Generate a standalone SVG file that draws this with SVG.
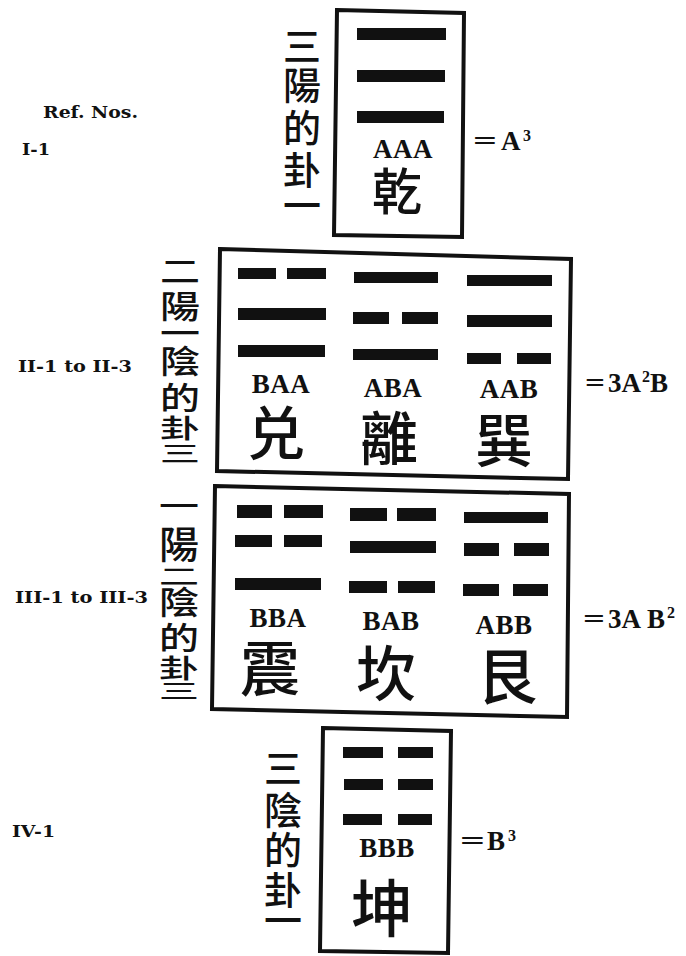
<svg xmlns="http://www.w3.org/2000/svg" width="686" height="956" viewBox="0 0 686 956">
<style>
.bg{fill:#fff}
.box{fill:none;stroke:#111;stroke-width:4;stroke-linejoin:miter}
.bar{fill:#111}
.code{font-family:"Liberation Serif","DejaVu Serif",serif;font-weight:bold;font-size:27px;fill:#111;text-anchor:middle;letter-spacing:0.5px}
.han{font-family:"Noto Sans CJK TC","Noto Sans CJK SC",sans-serif;font-weight:500;fill:#111;text-anchor:middle}
.big{font-size:58px}
.lab{font-size:38px}
.ref{font-family:"DejaVu Serif","Liberation Serif",serif;font-weight:bold;font-size:16px;fill:#111}
.eq{font-family:"Liberation Serif","DejaVu Serif",serif;font-weight:bold;font-size:27px;fill:#111}
.sup{font-family:"Liberation Serif","DejaVu Serif",serif;font-weight:bold;font-size:16px;fill:#111}
</style>
<rect class="bg" x="0" y="0" width="686" height="956"/>

<g id="ref-labels">
<text class="ref" x="43" y="118" textLength="95" lengthAdjust="spacingAndGlyphs">Ref. Nos.</text>
<text class="ref" x="22" y="155" textLength="28" lengthAdjust="spacingAndGlyphs">I-1</text>
<text class="ref" x="18" y="372" textLength="114" lengthAdjust="spacingAndGlyphs">II-1 to II-3</text>
<text class="ref" x="15" y="603" textLength="133" lengthAdjust="spacingAndGlyphs">III-1 to III-3</text>
<text class="ref" x="12" y="837" textLength="43" lengthAdjust="spacingAndGlyphs">IV-1</text>
</g>

<!-- Node I: 乾 -->
<g id="node-qian">
<polygon class="box" points="337,10 464,13 462,237 334,235"/>
<rect class="bar" x="357" y="28" width="89" height="12"/>
<rect class="bar" x="357" y="70" width="88" height="12"/>
<rect class="bar" x="357" y="111" width="87" height="12"/>
<text class="code" x="403" y="158">AAA</text>
<text class="han" x="397" y="210" font-size="50" font-weight="400">乾</text>
<g class="han lab">
<text x="302" y="60">三</text>
<text x="302" y="99">陽</text>
<text x="302" y="142">的</text>
<text x="302" y="184">卦</text>
<text x="302" y="219">一</text>
</g>
<text class="eq" x="473" y="150" textLength="24" lengthAdjust="spacingAndGlyphs">=</text>
<text class="eq" x="501" y="150">A</text>
<text class="sup" x="523" y="141">3</text>
</g>

<!-- Node II: 兑 離 巽 -->
<g id="node-two-yang">
<polygon class="box" points="220,249 571,259 568,479 217,471"/>
<rect class="bar" x="238" y="268" width="38" height="11"/>
<rect class="bar" x="287" y="268" width="39" height="11"/>
<rect class="bar" x="238" y="308" width="88" height="12"/>
<rect class="bar" x="238" y="345" width="87" height="12"/>
<rect class="bar" x="354" y="272" width="84" height="11"/>
<rect class="bar" x="353" y="312" width="36" height="12"/>
<rect class="bar" x="402" y="312" width="36" height="12"/>
<rect class="bar" x="353" y="349" width="85" height="11"/>
<rect class="bar" x="467" y="275" width="85" height="11"/>
<rect class="bar" x="467" y="315" width="85" height="12"/>
<rect class="bar" x="467" y="353" width="34" height="11"/>
<rect class="bar" x="517" y="353" width="34" height="11"/>
<text class="code" x="281" y="393">BAA</text>
<text class="code" x="393" y="397">ABA</text>
<text class="code" x="509" y="398">AAB</text>
<g class="han big" font-weight="400">
<text x="276" y="455">兑</text>
<text x="389" y="460">離</text>
<text x="504" y="462">巽</text>
</g>
<g class="han" font-size="40">
<text transform="matrix(1 0 0 0.75 180 271)" x="0" y="15">二</text>
<text transform="matrix(1 0 0 0.8 180 306)" x="0" y="15">陽</text>
<text transform="matrix(1 0 0 0.75 180 333)" x="0" y="15">一</text>
<text transform="matrix(1 0 0 0.8 180 361)" x="0" y="15">陰</text>
<text transform="matrix(1 0 0 0.78 180 397)" x="0" y="15">的</text>
<text transform="matrix(1 0 0 0.65 180 428)" x="0" y="15">卦</text>
<text transform="matrix(1 0 0 0.55 180 453)" x="0" y="15">三</text>
</g>
<text class="eq" x="585" y="392" textLength="20" lengthAdjust="spacingAndGlyphs">=</text>
<text class="eq" x="608" y="392">3A</text>
<text class="sup" x="642" y="382">2</text>
<text class="eq" x="650" y="392">B</text>
</g>

<!-- Node III: 震 坎 艮 -->
<g id="node-one-yang">
<polygon class="box" points="215,486 569,494 567,717 212,709"/>
<rect class="bar" x="237" y="505" width="35" height="13"/>
<rect class="bar" x="284" y="505" width="39" height="13"/>
<rect class="bar" x="235" y="535" width="37" height="12"/>
<rect class="bar" x="284" y="535" width="38" height="12"/>
<rect class="bar" x="235" y="578" width="86" height="12"/>
<rect class="bar" x="350" y="508" width="37" height="13"/>
<rect class="bar" x="397" y="508" width="39" height="13"/>
<rect class="bar" x="350" y="541" width="86" height="12"/>
<rect class="bar" x="349" y="581" width="38" height="12"/>
<rect class="bar" x="398" y="581" width="37" height="12"/>
<rect class="bar" x="464" y="512" width="84" height="11"/>
<rect class="bar" x="464" y="543" width="35" height="13"/>
<rect class="bar" x="514" y="543" width="35" height="13"/>
<rect class="bar" x="463" y="584" width="36" height="12"/>
<rect class="bar" x="513" y="584" width="35" height="12"/>
<text class="code" x="278" y="627">BBA</text>
<text class="code" x="391" y="630">BAB</text>
<text class="code" x="504" y="634">ABB</text>
<g class="han" font-size="60" font-weight="400">
<text x="270" y="691">震</text>
<text x="386" y="696">坎</text>
<text x="507" y="699">艮</text>
</g>
<g class="han" font-size="40">
<text transform="matrix(1 0 0 0.7 179 506)" x="0" y="15">一</text>
<text transform="matrix(1 0 0 0.95 179 544)" x="0" y="15">陽</text>
<text transform="matrix(1 0 0 0.55 179 576)" x="0" y="15">二</text>
<text transform="matrix(1 0 0 0.8 179 602)" x="0" y="15">陰</text>
<text transform="matrix(1 0 0 0.78 179 637)" x="0" y="15">的</text>
<text transform="matrix(1 0 0 0.65 179 668)" x="0" y="15">卦</text>
<text transform="matrix(1 0 0 0.5 179 691)" x="0" y="15">三</text>
</g>
<text class="eq" x="583" y="628" textLength="22" lengthAdjust="spacingAndGlyphs">=</text>
<text class="eq" x="608" y="628">3A</text>
<text class="eq" x="647" y="628">B</text>
<text class="sup" x="667" y="618">2</text>
</g>

<!-- Node IV: 坤 -->
<g id="node-kun">
<polygon class="box" points="323,728 451,731 448,953 320,951"/>
<rect class="bar" x="343" y="747" width="40" height="11"/>
<rect class="bar" x="398" y="747" width="35" height="11"/>
<rect class="bar" x="344" y="779" width="39" height="11"/>
<rect class="bar" x="398" y="779" width="35" height="11"/>
<rect class="bar" x="343" y="814" width="39" height="11"/>
<rect class="bar" x="398" y="814" width="34" height="11"/>
<text class="code" x="387" y="857">BBB</text>
<text class="han" x="382" y="932" font-size="62" font-weight="400">坤</text>
<g class="han lab">
<text x="283" y="782">三</text>
<text x="283" y="824">陰</text>
<text x="283" y="864">的</text>
<text x="283" y="904">卦</text>
<text x="283" y="934">一</text>
</g>
<text class="eq" x="460" y="850" textLength="25" lengthAdjust="spacingAndGlyphs">=</text>
<text class="eq" x="487" y="850">B</text>
<text class="sup" x="508" y="841">3</text>
</g>

<g id="connectors"></g>
</svg>
